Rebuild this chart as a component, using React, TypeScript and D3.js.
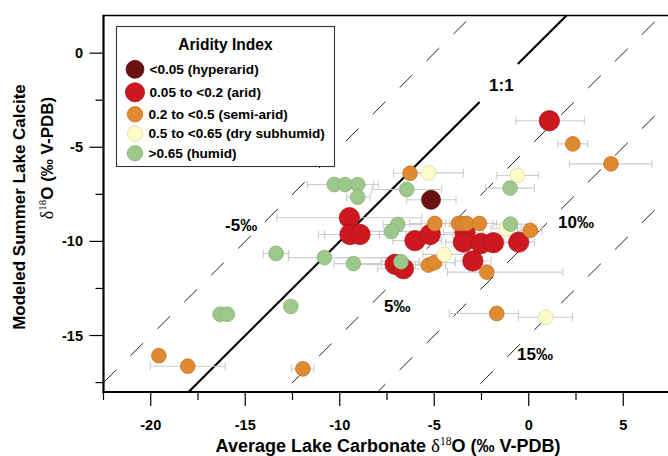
import React from "react";
import * as d3 from "d3";

// aridity classes (legend order)
const aridityLabels = [
  "<0.05 (hyperarid)",
  "0.05 to <0.2 (arid)",
  "0.2 to <0.5 (semi-arid)",
  "0.5 to <0.65 (dry subhumid)",
  ">0.65 (humid)",
];

// each point: [lake carbonate d18O, modeled calcite d18O, error low, error high]
const hyperarid = [[-5.17, -7.79, -6.46, -3.85]];

const arid = [
  [1.09, -3.59, -0.69, 2.94],
  [-9.49, -8.74, -13.33, -5.66],
  [-9.46, -9.63, -11.13, -7.9],
  [-8.93, -9.63, -10.8, -7.2],
  [-6.02, -9.96, -7.2, -4.6],
  [-5.21, -9.63, -6.5, -4.0],
  [-3.37, -9.54, -4.5, -2.4],
  [-3.46, -10.04, -4.4, -2.5],
  [-2.52, -10.11, -3.3, -1.7],
  [-1.87, -10.07, -2.7, -1.0],
  [-0.53, -10.04, -1.3, 0.3],
  [-7.07, -11.22, -9.0, -5.0],
  [-6.63, -11.45, -8.0, -5.2],
  [-2.96, -11.04, -3.9, -2.0],
];

const semiArid = [
  [2.33, -4.82, 1.53, 3.12],
  [4.35, -5.88, 2.15, 6.51],
  [-6.28, -6.38, -7.16, -5.4],
  [-4.97, -9.05, -6.3, -3.6],
  [-3.72, -9.05, -4.4, -2.9],
  [-3.49, -9.05, -4.2, -2.8],
  [-3.28, -9.05, -4.0, -2.6],
  [-2.61, -9.05, -3.5, -1.7],
  [0.08, -9.42, -0.6, 0.7],
  [-5.31, -11.26, -6.0, -4.4],
  [-4.99, -11.13, -5.8, -3.9],
  [-2.22, -11.63, -4.3, 1.8],
  [-19.57, -16.07, null, null],
  [-18.04, -16.63, -20.03, -16.06],
  [-11.95, -16.77, -12.56, -11.37],
  [-1.69, -13.83, -4.2, -0.55],
];

const drySubhumid = [
  [-5.29, -6.36, -6.63, -3.46],
  [-0.6, -6.5, -1.69, 0.51],
  [-1.2, -9.33, -2.0, -0.4],
  [-4.47, -10.69, -5.6, -3.4],
  [0.9, -14.03, -0.55, 2.31],
];

const humid = [
  [-6.46, -7.24, -8.3, -4.6],
  [-0.99, -7.17, -2.28, 0.3],
  [-0.97, -9.08, -1.9, 0.1],
  [-6.93, -9.1, -7.7, -5.7],
  [-7.27, -9.47, -9.5, -5.2],
  [-6.76, -11.08, -7.8, -5.8],
  [-10.29, -6.98, -11.71, -8.9],
  [-9.72, -6.98, -10.6, -8.22],
  [-9.05, -6.98, -10.0, -7.96],
  [-9.05, -7.65, -9.63, -8.4],
  [-13.37, -10.64, -14.04, -12.7],
  [-10.81, -10.86, -12.72, -7.16],
  [-9.28, -11.18, -10.3, -7.8],
  [-16.33, -13.87, null, null],
  [-15.95, -13.87, null, null],
  [-12.59, -13.46, null, null],
];

// offsets (x - y) of the reference lines, and the 1:1 line gap left for its label
const offsetLines = [-5, 5, 10, 15];
const offsetLabels = ["-5‰", "5‰", "10‰", "15‰"];
const oneToOneGap = [-2.6, -0.58];

const xMajor = [-20, -15, -10, -5, 0, 5];
const xMinor = [-22.5, -17.5, -12.5, -7.5, -2.5, 2.5, 7.5];
const yMajor = [0, -5, -10, -15];
const yMinor = [-2.5, -7.5, -12.5, -17.5];

const fills = ["#6c1111", "#cc181e", "#df8a31", "#fdfbc8", "#9dc88b"];
const strokes = ["#4a0a0a", "#a51318", "#bf7326", "#d9d6a2", "#84b072"];
const radii = [9.5, 10.2, 7.4, 7.4, 7.4];

const W = 668;
const H = 456;
const left = 103.5;
const top = 15.5;
const bottom = 392;

const sans = "'Liberation Sans', Arial, sans-serif";
const serif = "'Liberation Serif', 'Times New Roman', serif";

export default function App() {
  const x = d3.scaleLinear().domain([-22.5, 8]).range([left, left + 30.5 * 18.9]);
  const y = d3.scaleLinear().domain([-18, 2]).range([bottom, top]);
  const right = x(8);

  const [x0, x1] = x.domain();
  const [y0, y1] = y.domain();
  const line = d3.line<number[]>().x((d) => x(d[0])).y((d) => y(d[1]));

  // line y = x - off, over the x domain (clipped later)
  const refLine = (off: number) => line([[x0, x0 - off], [x1, x1 - off]]);

  const groups = [hyperarid, arid, semiArid, drySubhumid, humid];
  const drawOrder = [1, 2, 3, 4, 0];

  const labelPos: Record<string, number[]> = {
    "-5‰": [-16.07, -9.47],
    "5‰": [-7.66, -13.76],
    "10‰": [1.55, -9.31],
    "15‰": [-0.62, -16.3],
  };

  return (
    <svg width={W} height={H} style={{ position: "absolute", left: 0, top: 0, background: "#fff" }}>
      <defs>
        <clipPath id="plot">
          <rect x={left} y={top} width={right - left} height={bottom - top} />
        </clipPath>
      </defs>

      <g clipPath="url(#plot)">
        {offsetLines.map((o) => (
          <path key={o} d={refLine(o) || ""} fill="none" stroke="#222" strokeWidth={1} strokeDasharray="18 20" />
        ))}
        <path d={line([[y0, y0], [oneToOneGap[0], oneToOneGap[0]]]) || ""} stroke="#000" strokeWidth={2.2} fill="none" />
        <path d={line([[oneToOneGap[1], oneToOneGap[1]], [y1, y1]]) || ""} stroke="#000" strokeWidth={2.2} fill="none" />

        {/* error bars */}
        {groups.map((g, gi) =>
          g
            .filter((d) => d[2] != null)
            .map((d, i) => (
              <g key={gi + "-" + i} stroke="#cdcdcd" strokeWidth={1.1}>
                <line x1={x(d[2] as number)} x2={x(d[3] as number)} y1={y(d[1])} y2={y(d[1])} />
                <line x1={x(d[2] as number)} x2={x(d[2] as number)} y1={y(d[1]) - 4} y2={y(d[1]) + 4} />
                <line x1={x(d[3] as number)} x2={x(d[3] as number)} y1={y(d[1]) - 4} y2={y(d[1]) + 4} />
              </g>
            ))
        )}

        {drawOrder.map((gi) =>
          groups[gi].map((d, i) => (
            <circle
              key={gi + "c" + i}
              cx={x(d[0])}
              cy={y(d[1])}
              r={radii[gi]}
              fill={fills[gi]}
              stroke={strokes[gi]}
              strokeWidth={0.7}
            />
          ))
        )}
      </g>

      {/* line labels */}
      <g fontFamily={sans} fontWeight="bold" fontSize={17} fill="#000">
        {offsetLabels.map((t) => (
          <text key={t} x={x(labelPos[t][0])} y={y(labelPos[t][1])}>
            {t}
          </text>
        ))}
        <text x={x(-2.1)} y={y(-2.0)}>1:1</text>
      </g>

      {/* frame */}
      <line x1={left} x2={W} y1={top} y2={top} stroke="#000" strokeWidth={1.6} />
      <line x1={left} x2={left} y1={top - 0.8} y2={bottom + 1} stroke="#000" strokeWidth={2.2} />
      <line x1={left - 1} x2={W} y1={bottom} y2={bottom} stroke="#000" strokeWidth={2.2} />

      {/* ticks */}
      <g stroke="#000" strokeWidth={1.2}>
        {xMajor.map((t) => (
          <line key={"xm" + t} x1={x(t)} x2={x(t)} y1={bottom} y2={bottom + 14} />
        ))}
        {xMinor.map((t) => (
          <line key={"xn" + t} x1={x(t)} x2={x(t)} y1={bottom} y2={bottom + 8} />
        ))}
        {yMajor.map((t) => (
          <line key={"ym" + t} x1={left - 14} x2={left} y1={y(t)} y2={y(t)} />
        ))}
        {yMinor.map((t) => (
          <line key={"yn" + t} x1={left - 8} x2={left} y1={y(t)} y2={y(t)} />
        ))}
      </g>

      <g fontFamily={sans} fontWeight="bold" fontSize={14.5} fill="#000">
        {xMajor.map((t) => (
          <text key={"xl" + t} x={x(t)} y={430} textAnchor="middle">
            {t}
          </text>
        ))}
        {yMajor.map((t) => (
          <text key={"yl" + t} x={83} y={y(t) + 5} textAnchor="end">
            {t}
          </text>
        ))}
      </g>

      {/* axis titles */}
      <text x={388} y={452} textAnchor="middle" fontFamily={sans} fontWeight="bold" fontSize={18}>
        Average Lake Carbonate{" "}
        <tspan fontFamily={serif} fontWeight="normal" fontSize={19}>δ</tspan>
        <tspan fontFamily={serif} fontWeight="normal" fontSize={11.5} dy={-7}>18</tspan>
        <tspan dy={7}>O (‰ V-PDB)</tspan>
      </text>
      <text transform="translate(25,207) rotate(-90)" textAnchor="middle" fontFamily={sans} fontWeight="bold" fontSize={17}>
        Modeled Summer Lake Calcite
      </text>
      <text transform="translate(53,158) rotate(-90)" textAnchor="middle" fontFamily={sans} fontWeight="bold" fontSize={17}>
        <tspan fontFamily={serif} fontWeight="normal" fontSize={18}>δ</tspan>
        <tspan fontFamily={serif} fontWeight="normal" fontSize={11} dy={-7}>18</tspan>
        <tspan dy={7}>O (‰ V-PDB)</tspan>
      </text>

      {/* legend */}
      <g>
        <rect x={116.5} y={26.5} width={218} height={140} fill="#fff" stroke="#333" strokeWidth={1.1} />
        <text x={225.5} y={50} textAnchor="middle" fontFamily={sans} fontWeight="bold" fontSize={15.6}>
          Aridity Index
        </text>
        {aridityLabels.map((lab, i) => {
          const cy = [69.3, 92.3, 114.3, 133.7, 153.3][i];
          const rr = [9, 9.6, 7.8, 7.8, 7.8][i];
          return (
            <g key={lab}>
              <circle cx={135} cy={cy} r={rr} fill={fills[i]} stroke={strokes[i]} strokeWidth={0.7} />
              <text x={i < 2 ? 149.5 : 148.5} y={cy + 4.7} fontFamily={sans} fontWeight="bold" fontSize={13.6}>
                {lab}
              </text>
            </g>
          );
        })}
      </g>
    </svg>
  );
}
